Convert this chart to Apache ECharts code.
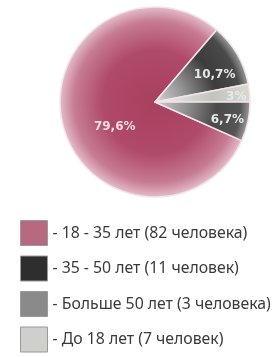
<!DOCTYPE html>
<html>
<head>
<meta charset="utf-8">
<script src="https://cdn.jsdelivr.net/npm/echarts@6/dist/echarts.min.js"></script>
<style>
    html,body{margin:0;padding:0;background:#fff;}
    #chart{width:276px;height:357px;}
</style>
</head>
<body>
<div id="chart"></div>
<script>
    // данные из картинки
    const names = ['18 - 35 лет (82 человека)', '35 - 50 лет (11 человек)', 'Больше 50 лет (3 человека)', 'До 18 лет (7 человек)'];
    const values = [79.6, 10.7, 3, 6.7];
    const labels = ['79,6%', '10,7%', '3%', '6,7%'];
    const legendColors = ['#b8687f', '#2e2e2e', '#8a8a8a', '#cfcfcb'];

    const cx = 155, cy = 102, r = 95;

    function radial(stops){
        return new echarts.graphic.RadialGradient(cx, cy, r, stops.map((c,i)=>({offset:c[0],color:c[1]})), true);
    }
    const sliceColors = [
        radial([[0,'#a8405f'],[0.55,'#b04a6a'],[0.85,'#c67c93'],[1,'#e4bcc9']]),
        radial([[0,'#d8d8d8'],[0.35,'#8a8a8a'],[0.65,'#3c3c3c'],[0.9,'#4a4a4a'],[1,'#999']]),
        radial([[0,'#f2f2ee'],[0.6,'#c4c4be'],[1,'#d8d8d2']]),
        radial([[0,'#d0d0d0'],[0.35,'#8c8c8c'],[0.65,'#4a4a4a'],[0.9,'#555'],[1,'#999']])
    ];
    // сдвиг подписей внутри сектора
    const labelShift = [[9,14],[16,-2],[31,0],[23,7]];

    const chart = echarts.init(document.getElementById('chart'));
    chart.setOption({
        animation: false,
        legend: {
            orient: 'vertical',
            left: 20,
            top: 220,
            padding: 0,
            itemWidth: 27,
            itemHeight: 25,
            itemGap: 9.5,
            icon: 'rect',
            formatter: '- {name}',
            textStyle: {
                color: '#3a3a3a',
                fontSize: 15.8,
                fontFamily: 'Noto Sans'
            },
            data: names.map((n,i)=>({
                name: n,
                itemStyle: {color: legendColors[i], borderColor: '#9a9a9a', borderWidth: 1}
            }))
        },
        series: [
            {
                type: 'pie',
                center: [cx, cy],
                radius: [0, r],
                startAngle: 336,
                clockwise: true,
                avoidLabelOverlap: false,
                emphasis: {disabled: true},
                itemStyle: {
                    borderColor: '#f3e4e9',
                    borderWidth: 1.5
                },
                label: {
                    show: true,
                    position: 'inside',
                    fontFamily: 'DejaVu Sans',
                    fontWeight: 'bold',
                    fontSize: 12,
                    formatter: p => labels[p.dataIndex]
                },
                labelLine: {show: false},
                labelLayout: p => ({dx: labelShift[p.dataIndex][0], dy: labelShift[p.dataIndex][1]}),
                data: values.map((v,i)=>({
                    value: v,
                    name: names[i],
                    itemStyle: {color: sliceColors[i]},
                    label: {color: i === 0 ? '#f3dde5' : '#e8e8e8'}
                }))
            }
        ]
    });
</script>
</body>
</html>
